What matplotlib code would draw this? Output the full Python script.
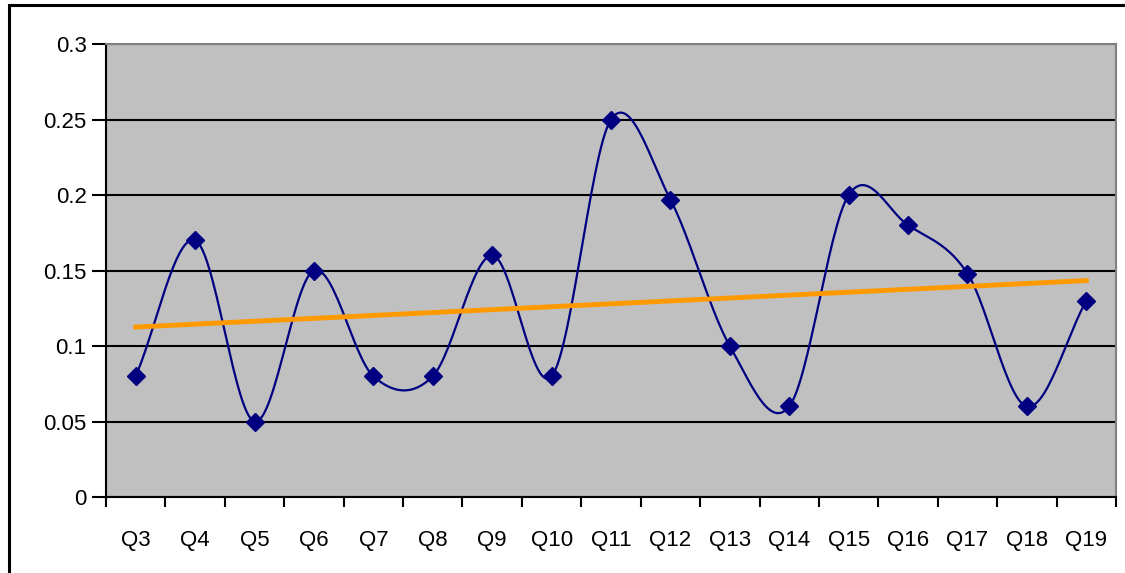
import numpy as np
import matplotlib.pyplot as plt
from matplotlib.patches import Rectangle

plt.rcParams['font.family'] = ['Liberation Sans', 'DejaVu Sans']

quarters = ['Q3', 'Q4', 'Q5', 'Q6', 'Q7', 'Q8', 'Q9', 'Q10', 'Q11',
            'Q12', 'Q13', 'Q14', 'Q15', 'Q16', 'Q17', 'Q18', 'Q19']
values = [0.08, 0.17, 0.05, 0.15, 0.08, 0.08, 0.16, 0.08, 0.25,
          0.197, 0.10, 0.06, 0.20, 0.18, 0.148, 0.06, 0.13]


def smooth_curve(y, steps=30):
    # Catmull-Rom style smoothing through each point
    y = np.asarray(y, dtype=float)
    n = len(y)
    xs, ys = [], []
    for i in range(n - 1):
        p0 = y[max(i - 1, 0)]
        p1 = y[i]
        p2 = y[i + 1]
        p3 = y[min(i + 2, n - 1)]
        m1 = (p2 - p0) / 2.0 if 0 < i else (p2 - p1)
        m2 = (p3 - p1) / 2.0 if i + 2 < n else (p2 - p1)
        t = np.linspace(0, 1, steps, endpoint=False)
        h00 = 2 * t**3 - 3 * t**2 + 1
        h10 = t**3 - 2 * t**2 + t
        h01 = -2 * t**3 + 3 * t**2
        h11 = t**3 - t**2
        xs.extend(i + t)
        ys.extend(h00 * p1 + h10 * m1 + h01 * p2 + h11 * m2)
    xs.append(n - 1)
    ys.append(y[-1])
    return np.array(xs), np.array(ys)


x = np.arange(len(quarters))
sx, sy = smooth_curve(values)

fig = plt.figure(figsize=(11.25, 5.73), dpi=100)
ax = fig.add_axes([0.0942, 0.1326, 0.8978, 0.7906])
ax.set_facecolor('#c0c0c0')

ax.plot(sx, sy, color='#000080', lw=1.6, zorder=3)
ax.plot(x, values, 'D', color='#000080', ms=9, zorder=4)

# linear trend
k, b = np.polyfit(x, values, 1)
ax.plot([x[0], x[-1]], [k * x[0] + b, k * x[-1] + b], color='#ff9900', lw=3.5, zorder=5)

ax.set_ylim(0, 0.3)
ax.set_xlim(-0.5, len(quarters) - 0.5)
ax.set_yticks(np.arange(0, 0.31, 0.05))
ax.set_yticklabels(['0', '0.05', '0.1', '0.15', '0.2', '0.25', '0.3'])
ax.grid(axis='y', color='black', lw=1.5)
ax.set_axisbelow(True)

ax.set_xticks(x)
ax.set_xticklabels(quarters)
ax.set_xticks(np.arange(len(quarters) + 1) - 0.5, minor=True)
ax.tick_params(axis='x', which='major', length=0, pad=24, labelsize=16)
ax.tick_params(axis='x', which='minor', length=7, width=1.5, direction='out')
ax.tick_params(axis='y', length=10, width=1.5, direction='out', pad=4, labelsize=16)

for side in ['left', 'bottom']:
    ax.spines[side].set_color('black')
    ax.spines[side].set_linewidth(1.5)
for side in ['top', 'right']:
    ax.spines[side].set_color('#808080')
    ax.spines[side].set_linewidth(1.5)

# outer chart frame
fig.patches.append(Rectangle((9 / 1125, -0.2), 1.2, 1.2 - 5 / 573, transform=fig.transFigure,
                             fill=False, edgecolor='black', lw=2.2))

fig.savefig('out.png', dpi=100)
